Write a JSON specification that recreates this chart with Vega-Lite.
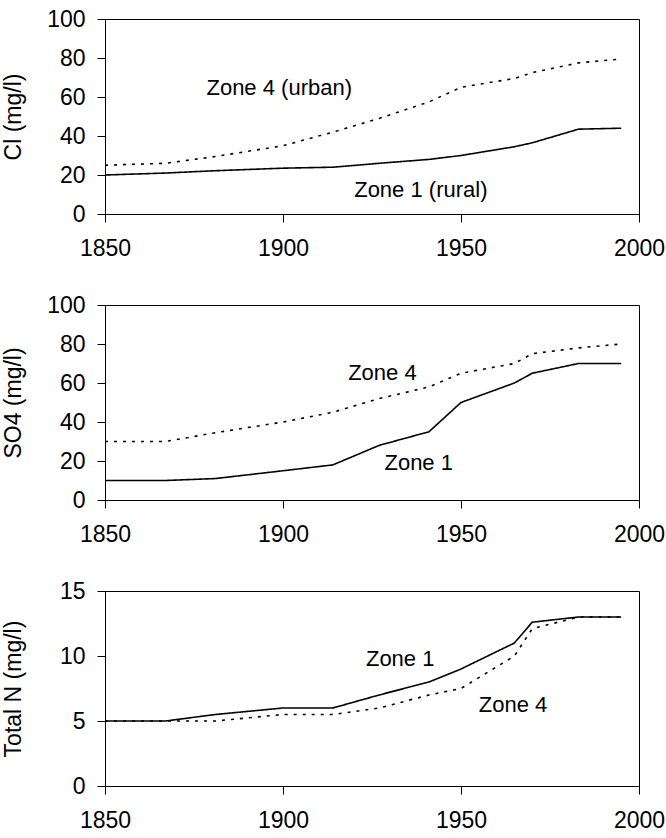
{
  "$schema": "https://vega.github.io/schema/vega-lite/v6.json",
  "padding": {"left": 1, "top": 7, "right": 2, "bottom": 2},
  "background": "white",
  "datasets": {
    "series": [
      {"panel": "Cl", "zone": "Zone 1", "year": 1850, "value": 20},
      {"panel": "Cl", "zone": "Zone 1", "year": 1867, "value": 21},
      {"panel": "Cl", "zone": "Zone 1", "year": 1881, "value": 22.2},
      {"panel": "Cl", "zone": "Zone 1", "year": 1900, "value": 23.5},
      {"panel": "Cl", "zone": "Zone 1", "year": 1914, "value": 24},
      {"panel": "Cl", "zone": "Zone 1", "year": 1927, "value": 26},
      {"panel": "Cl", "zone": "Zone 1", "year": 1941, "value": 28},
      {"panel": "Cl", "zone": "Zone 1", "year": 1950, "value": 30},
      {"panel": "Cl", "zone": "Zone 1", "year": 1965, "value": 34.5},
      {"panel": "Cl", "zone": "Zone 1", "year": 1970, "value": 36.5},
      {"panel": "Cl", "zone": "Zone 1", "year": 1983, "value": 43.5},
      {"panel": "Cl", "zone": "Zone 1", "year": 1995, "value": 44},
      {"panel": "Cl", "zone": "Zone 4", "year": 1850, "value": 25},
      {"panel": "Cl", "zone": "Zone 4", "year": 1867, "value": 26},
      {"panel": "Cl", "zone": "Zone 4", "year": 1881, "value": 29.5},
      {"panel": "Cl", "zone": "Zone 4", "year": 1900, "value": 35},
      {"panel": "Cl", "zone": "Zone 4", "year": 1914, "value": 42},
      {"panel": "Cl", "zone": "Zone 4", "year": 1927, "value": 49},
      {"panel": "Cl", "zone": "Zone 4", "year": 1941, "value": 57.5},
      {"panel": "Cl", "zone": "Zone 4", "year": 1950, "value": 65},
      {"panel": "Cl", "zone": "Zone 4", "year": 1965, "value": 69.5},
      {"panel": "Cl", "zone": "Zone 4", "year": 1970, "value": 72.5},
      {"panel": "Cl", "zone": "Zone 4", "year": 1983, "value": 77.5},
      {"panel": "Cl", "zone": "Zone 4", "year": 1995, "value": 79.5},
      {"panel": "SO4", "zone": "Zone 1", "year": 1850, "value": 10},
      {"panel": "SO4", "zone": "Zone 1", "year": 1867, "value": 10},
      {"panel": "SO4", "zone": "Zone 1", "year": 1881, "value": 11},
      {"panel": "SO4", "zone": "Zone 1", "year": 1900, "value": 15},
      {"panel": "SO4", "zone": "Zone 1", "year": 1914, "value": 18},
      {"panel": "SO4", "zone": "Zone 1", "year": 1927, "value": 28},
      {"panel": "SO4", "zone": "Zone 1", "year": 1941, "value": 35},
      {"panel": "SO4", "zone": "Zone 1", "year": 1950, "value": 50},
      {"panel": "SO4", "zone": "Zone 1", "year": 1965, "value": 60},
      {"panel": "SO4", "zone": "Zone 1", "year": 1970, "value": 65},
      {"panel": "SO4", "zone": "Zone 1", "year": 1983, "value": 70},
      {"panel": "SO4", "zone": "Zone 1", "year": 1995, "value": 70},
      {"panel": "SO4", "zone": "Zone 4", "year": 1850, "value": 30},
      {"panel": "SO4", "zone": "Zone 4", "year": 1867, "value": 30},
      {"panel": "SO4", "zone": "Zone 4", "year": 1881, "value": 34.5},
      {"panel": "SO4", "zone": "Zone 4", "year": 1900, "value": 40},
      {"panel": "SO4", "zone": "Zone 4", "year": 1914, "value": 45},
      {"panel": "SO4", "zone": "Zone 4", "year": 1927, "value": 52},
      {"panel": "SO4", "zone": "Zone 4", "year": 1941, "value": 58},
      {"panel": "SO4", "zone": "Zone 4", "year": 1950, "value": 65},
      {"panel": "SO4", "zone": "Zone 4", "year": 1965, "value": 70},
      {"panel": "SO4", "zone": "Zone 4", "year": 1970, "value": 75},
      {"panel": "SO4", "zone": "Zone 4", "year": 1983, "value": 78},
      {"panel": "SO4", "zone": "Zone 4", "year": 1995, "value": 80},
      {"panel": "N", "zone": "Zone 1", "year": 1850, "value": 5},
      {"panel": "N", "zone": "Zone 1", "year": 1867, "value": 5},
      {"panel": "N", "zone": "Zone 1", "year": 1881, "value": 5.5},
      {"panel": "N", "zone": "Zone 1", "year": 1900, "value": 6},
      {"panel": "N", "zone": "Zone 1", "year": 1914, "value": 6},
      {"panel": "N", "zone": "Zone 1", "year": 1927, "value": 7},
      {"panel": "N", "zone": "Zone 1", "year": 1941, "value": 8},
      {"panel": "N", "zone": "Zone 1", "year": 1950, "value": 9},
      {"panel": "N", "zone": "Zone 1", "year": 1965, "value": 11},
      {"panel": "N", "zone": "Zone 1", "year": 1970, "value": 12.6},
      {"panel": "N", "zone": "Zone 1", "year": 1983, "value": 13},
      {"panel": "N", "zone": "Zone 1", "year": 1995, "value": 13},
      {"panel": "N", "zone": "Zone 4", "year": 1850, "value": 5},
      {"panel": "N", "zone": "Zone 4", "year": 1867, "value": 5},
      {"panel": "N", "zone": "Zone 4", "year": 1881, "value": 5},
      {"panel": "N", "zone": "Zone 4", "year": 1900, "value": 5.5},
      {"panel": "N", "zone": "Zone 4", "year": 1914, "value": 5.5},
      {"panel": "N", "zone": "Zone 4", "year": 1927, "value": 6},
      {"panel": "N", "zone": "Zone 4", "year": 1941, "value": 7},
      {"panel": "N", "zone": "Zone 4", "year": 1950, "value": 7.5},
      {"panel": "N", "zone": "Zone 4", "year": 1965, "value": 10},
      {"panel": "N", "zone": "Zone 4", "year": 1970, "value": 12.1},
      {"panel": "N", "zone": "Zone 4", "year": 1983, "value": 13},
      {"panel": "N", "zone": "Zone 4", "year": 1995, "value": 13}
    ],
    "labels": [
      {"panel": "Cl", "label": "Zone 4 (urban)", "year": 1878.5, "value": 64.5},
      {"panel": "Cl", "label": "Zone 1 (rural)", "year": 1920, "value": 12.5},
      {"panel": "SO4", "label": "Zone 4", "year": 1918.3, "value": 65.3},
      {"panel": "SO4", "label": "Zone 1", "year": 1928.5, "value": 19.2},
      {"panel": "N", "label": "Zone 1", "year": 1923.3, "value": 9.8},
      {"panel": "N", "label": "Zone 4", "year": 1955, "value": 6.2}
    ]
  },
  "spacing": 91,
  "bounds": "flush",
  "vconcat": [
    {
      "width": 534,
      "height": 195,
      "layer": [
        {
          "data": {"name": "series"},
          "transform": [{"filter": "datum.panel == 'Cl'"}],
          "mark": {"type": "line", "color": "black", "strokeWidth": 1.6},
          "encoding": {
            "x": {"field": "year", "type": "quantitative", "scale": {"domain": [1850, 2000], "nice": false, "zero": false}, "axis": {"values": [1850, 1900, 1950, 2000], "format": "d", "title": null, "labelOverlap": false}},
            "y": {"field": "value", "type": "quantitative", "scale": {"domain": [0, 100], "nice": false}, "axis": {"values": [0, 20, 40, 60, 80, 100], "title": "Cl (mg/l)", "labelOverlap": false, "labelBound": false}},
            "strokeDash": {"field": "zone", "type": "nominal", "scale": {"domain": ["Zone 1", "Zone 4"], "range": [[1, 0], [3, 6]]}, "legend": null}
          }
        },
        {
          "data": {"name": "labels"},
          "transform": [{"filter": "datum.panel == 'Cl'"}],
          "mark": {"type": "text", "align": "left", "baseline": "middle", "fontSize": 22, "color": "black"},
          "encoding": {
            "x": {"field": "year", "type": "quantitative", "scale": {"domain": [1850, 2000], "nice": false, "zero": false}, "axis": {"values": [1850, 1900, 1950, 2000], "format": "d", "title": null, "labelOverlap": false}},
            "y": {"field": "value", "type": "quantitative", "scale": {"domain": [0, 100], "nice": false}, "axis": {"values": [0, 20, 40, 60, 80, 100], "title": "Cl (mg/l)", "labelOverlap": false, "labelBound": false}},
            "text": {"field": "label"}
          }
        }
      ]
    },
    {
      "width": 534,
      "height": 195,
      "layer": [
        {
          "data": {"name": "series"},
          "transform": [{"filter": "datum.panel == 'SO4'"}],
          "mark": {"type": "line", "color": "black", "strokeWidth": 1.6},
          "encoding": {
            "x": {"field": "year", "type": "quantitative", "scale": {"domain": [1850, 2000], "nice": false, "zero": false}, "axis": {"values": [1850, 1900, 1950, 2000], "format": "d", "title": null, "labelOverlap": false}},
            "y": {"field": "value", "type": "quantitative", "scale": {"domain": [0, 100], "nice": false}, "axis": {"values": [0, 20, 40, 60, 80, 100], "title": "SO4 (mg/l)", "labelOverlap": false, "labelBound": false}},
            "strokeDash": {"field": "zone", "type": "nominal", "scale": {"domain": ["Zone 1", "Zone 4"], "range": [[1, 0], [3, 6]]}, "legend": null}
          }
        },
        {
          "data": {"name": "labels"},
          "transform": [{"filter": "datum.panel == 'SO4'"}],
          "mark": {"type": "text", "align": "left", "baseline": "middle", "fontSize": 22, "color": "black"},
          "encoding": {
            "x": {"field": "year", "type": "quantitative", "scale": {"domain": [1850, 2000], "nice": false, "zero": false}, "axis": {"values": [1850, 1900, 1950, 2000], "format": "d", "title": null, "labelOverlap": false}},
            "y": {"field": "value", "type": "quantitative", "scale": {"domain": [0, 100], "nice": false}, "axis": {"values": [0, 20, 40, 60, 80, 100], "title": "SO4 (mg/l)", "labelOverlap": false, "labelBound": false}},
            "text": {"field": "label"}
          }
        }
      ]
    },
    {
      "width": 534,
      "height": 195,
      "layer": [
        {
          "data": {"name": "series"},
          "transform": [{"filter": "datum.panel == 'N'"}],
          "mark": {"type": "line", "color": "black", "strokeWidth": 1.6},
          "encoding": {
            "x": {"field": "year", "type": "quantitative", "scale": {"domain": [1850, 2000], "nice": false, "zero": false}, "axis": {"values": [1850, 1900, 1950, 2000], "format": "d", "title": null, "labelOverlap": false}},
            "y": {"field": "value", "type": "quantitative", "scale": {"domain": [0, 15], "nice": false}, "axis": {"values": [0, 5, 10, 15], "title": "Total N (mg/l)", "labelOverlap": false, "labelBound": false}},
            "strokeDash": {"field": "zone", "type": "nominal", "scale": {"domain": ["Zone 1", "Zone 4"], "range": [[1, 0], [3, 6]]}, "legend": null}
          }
        },
        {
          "data": {"name": "labels"},
          "transform": [{"filter": "datum.panel == 'N'"}],
          "mark": {"type": "text", "align": "left", "baseline": "middle", "fontSize": 22, "color": "black"},
          "encoding": {
            "x": {"field": "year", "type": "quantitative", "scale": {"domain": [1850, 2000], "nice": false, "zero": false}, "axis": {"values": [1850, 1900, 1950, 2000], "format": "d", "title": null, "labelOverlap": false}},
            "y": {"field": "value", "type": "quantitative", "scale": {"domain": [0, 15], "nice": false}, "axis": {"values": [0, 5, 10, 15], "title": "Total N (mg/l)", "labelOverlap": false, "labelBound": false}},
            "text": {"field": "label"}
          }
        }
      ]
    }
  ],
  "config": {
    "font": "Liberation Sans",
    "view": {"stroke": "black", "strokeWidth": 1},
    "axis": {
      "domainColor": "black",
      "tickColor": "black",
      "labelColor": "black",
      "titleColor": "black",
      "labelFontSize": 23,
      "titleFontSize": 23,
      "titleFontWeight": "normal",
      "labelFont": "Liberation Sans",
      "titleFont": "Liberation Sans",
      "tickSize": 8,
      "grid": false,
      "labelOverlap": false
    },
    "axisX": {"labelPadding": 15, "labelFlush": false},
    "axisY": {"labelPadding": 12, "titleX": -80}
  }
}
